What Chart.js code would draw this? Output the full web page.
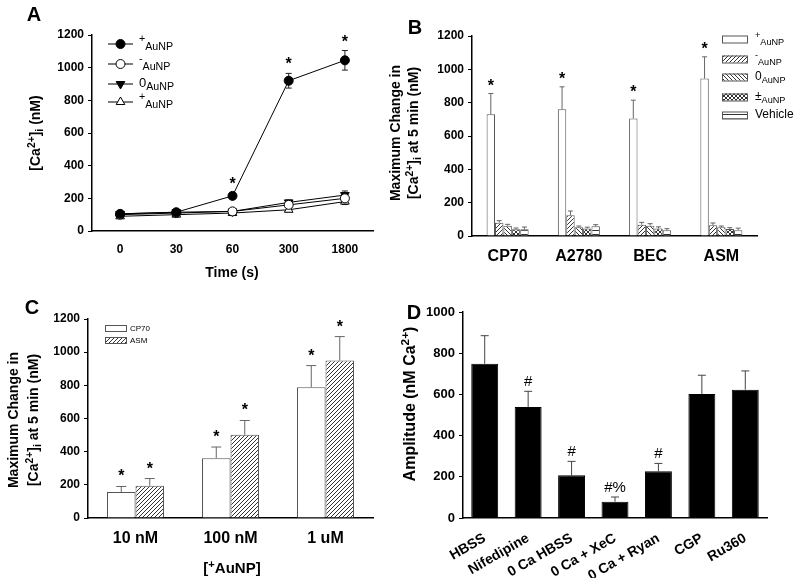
<!DOCTYPE html>
<html lang="en">
<head>
<meta charset="UTF-8">
<title>AuNP calcium figure</title>
<script src="https://cdn.jsdelivr.net/npm/chart.js"></script>
<style>
  body { margin: 0; background: #fff; }
  #wrap { position: relative; width: 795px; height: 582px; }
  #wrap canvas { position: absolute; left: 0; top: 0; }
</style>
</head>
<body>
<div id="wrap">
  <canvas id="cA" width="795" height="582"></canvas>
  <canvas id="cB" width="795" height="582"></canvas>
  <canvas id="cC" width="795" height="582"></canvas>
  <canvas id="cD" width="795" height="582"></canvas>
</div>
<script>
// ---- panel A: time course ----
const timeLabels = ['0', '30', '60', '300', '1800'];
const posAuNP  = [105, 115, 215, 920, 1045];
const posErr   = [10, 10, 20, 45, 60];
const negAuNP  = [100, 110, 120, 160, 200];
const negErr   = [8, 8, 8, 15, 20];
const zeroAuNP = [105, 115, 120, 175, 220];
const zeroErr  = [8, 8, 8, 15, 25];
const pmAuNP   = [90, 100, 110, 130, 180];
const pmErr    = [8, 8, 8, 12, 18];
const starsA   = ['', '', '*', '*', '*'];

// ---- panel B: cell lines ----
const cellLines = ['CP70', 'A2780', 'BEC', 'ASM'];
const bPos  = [730, 760, 705, 945];  const bPosErr  = [125, 135, 110, 130];
const bNeg  = [80, 125, 68, 64];     const bNegErr  = [12, 25, 14, 14];
const bZero = [62, 52, 62, 52];      const bZeroErr = [8, 8, 12, 8];
const bPm   = [40, 45, 45, 42];      const bPmErr   = [8, 8, 10, 8];
const bVeh  = [40, 58, 34, 35];      const bVehErr  = [14, 10, 10, 12];
const starsB = ['*', '*', '*', '*'];

// ---- panel C: dose ----
const concLabels = ['10 nM', '100 nM', '1 uM'];
const cCP70 = [157, 361, 789];  const cCP70Err = [33, 67, 130];
const cASM  = [195, 502, 949];  const cASMErr  = [43, 86, 145];
const starsC = ['*', '*', '*'];

// ---- panel D: inhibitors ----
const treatments = ['HBSS', 'Nifedipine', '0 Ca HBSS', '0 Ca + XeC', '0 Ca + Ryan', 'CGP', 'Ru360'];
const amplitude  = [749, 539, 207, 79, 227, 602, 623];
const ampErr     = [136, 76, 68, 23, 38, 91, 91];
const marksD     = ['', '#', '#', '#%', '#', '', ''];

Chart.defaults.font.family = '"Liberation Sans", Arial, sans-serif';
Chart.defaults.color = '#000';
Chart.defaults.animation = false;

// text with ^{sup} and _{sub} pieces
function parse(str) {
  const out = [];
  const re = /([\^_])\{([^}]*)\}|([^\^_]+)/g;
  let m;
  while ((m = re.exec(str))) {
    if (m[3]) out.push({ t: m[3] });
    else out.push({ t: m[2], sup: m[1] === '^', sub: m[1] === '_' });
  }
  return out;
}

function drawRich(ctx, str, x, y, size, o = {}) {
  const segs = parse(str);
  const fnt = s => `${o.bold ? 'bold ' : ''}${s}px "Liberation Sans", Arial, sans-serif`;
  const small = o.small || 0.74;
  let total = 0;
  segs.forEach(s => {
    s.size = (s.sup || s.sub) ? size * small : size;
    ctx.font = fnt(s.size);
    s.w = ctx.measureText(s.t).width;
    total += s.w;
  });
  ctx.save();
  ctx.translate(x, y);
  if (o.rot) ctx.rotate(o.rot * Math.PI / 180);
  ctx.fillStyle = '#000';
  ctx.textBaseline = 'alphabetic';
  ctx.textAlign = 'left';
  let cx = o.align === 'left' ? 0 : -total / 2;
  const base = size * 0.36;
  segs.forEach(s => {
    ctx.font = fnt(s.size);
    const dy = s.sup ? -size * 0.38 : s.sub ? size * 0.24 : 0;
    ctx.fillText(s.t, cx, base + dy);
    cx += s.w;
  });
  ctx.restore();
}

function tile(ctx, kind, size) {
  const c = document.createElement('canvas');
  c.width = c.height = size;
  const g = c.getContext('2d');
  const s = size;
  g.fillStyle = '#fff';
  g.fillRect(0, 0, s, s);
  g.strokeStyle = '#333';
  g.lineWidth = 1;
  g.beginPath();
  if (kind === 'fwd' || kind === 'cross') {
    g.moveTo(-1, s + 1); g.lineTo(s + 1, -1);
    g.moveTo(-1, 1); g.lineTo(1, -1);
    g.moveTo(s - 1, s + 1); g.lineTo(s + 1, s - 1);
  }
  if (kind === 'back' || kind === 'cross') {
    g.moveTo(-1, -1); g.lineTo(s + 1, s + 1);
    g.moveTo(s - 1, -1); g.lineTo(s + 1, 1);
    g.moveTo(-1, s - 1); g.lineTo(1, s + 1);
  }
  if (kind === 'horiz') {
    g.moveTo(0, s / 2 + 0.5); g.lineTo(s, s / 2 + 0.5);
  }
  g.stroke();
  return ctx.createPattern(c, 'repeat');
}

// error bars, marks, legend and free text for one panel
function makeExtras(cfg) {
  return {
    id: 'extras',
    beforeDatasetsDraw(chart) {
      const ctx = chart.ctx, ys = chart.scales.y;
      chart.data.datasets.forEach((ds, i) => {
        if (!ds.errors) return;
        chart.getDatasetMeta(i).data.forEach((el, j) => {
          const v = ds.data[j], e = ds.errors[j];
          if (!e) return;
          const top = ys.getPixelForValue(v + e);
          const bot = cfg.both ? ys.getPixelForValue(v - e) : ys.getPixelForValue(v);
          ctx.save();
          ctx.strokeStyle = cfg.errColor;
          ctx.lineWidth = 1;
          ctx.beginPath();
          ctx.moveTo(el.x, top); ctx.lineTo(el.x, bot);
          ctx.moveTo(el.x - cfg.cap / 2, top); ctx.lineTo(el.x + cfg.cap / 2, top);
          if (cfg.both) { ctx.moveTo(el.x - cfg.cap / 2, bot); ctx.lineTo(el.x + cfg.cap / 2, bot); }
          ctx.stroke();
          ctx.restore();
        });
      });
    },
    afterDraw(chart) {
      const ctx = chart.ctx, ys = chart.scales.y;
      chart.data.datasets.forEach((ds, i) => {
        if (!ds.marks) return;
        chart.getDatasetMeta(i).data.forEach((el, j) => {
          const t = ds.marks[j];
          if (!t) return;
          const top = ys.getPixelForValue(ds.data[j] + (ds.errors ? ds.errors[j] : 0));
          ctx.save();
          ctx.font = cfg.markFont;
          ctx.fillStyle = '#000';
          ctx.textAlign = 'center';
          ctx.textBaseline = 'alphabetic';
          ctx.fillText(t, el.x, top - cfg.markGap);
          ctx.restore();
        });
      });
      const lg = cfg.legend;
      if (lg) {
        chart.data.datasets.forEach((ds, i) => {
          const y = lg.rows[i];
          ctx.save();
          if (lg.kind === 'line') {
            ctx.strokeStyle = '#000';
            ctx.lineWidth = 1;
            ctx.beginPath();
            ctx.moveTo(lg.x0, y); ctx.lineTo(lg.x0 + lg.w, y);
            ctx.stroke();
            ctx.fillStyle = ds.pointBackgroundColor;
            ctx.strokeStyle = '#000';
            Chart.helpers.drawPoint(ctx, {
              pointStyle: ds.pointStyle, rotation: ds.pointRotation || 0,
              radius: ds.pointRadius, borderWidth: 1
            }, lg.x0 + lg.w / 2, y);
          } else {
            ctx.fillStyle = ds.backgroundColor;
            ctx.fillRect(lg.x0, y - lg.h / 2, lg.w, lg.h);
            ctx.strokeStyle = ds.borderColor;
            ctx.lineWidth = 1;
            ctx.strokeRect(lg.x0 + 0.5, y - lg.h / 2 + 0.5, lg.w, lg.h);
          }
          ctx.restore();
          drawRich(ctx, ds.label, lg.tx, y + lg.dy, lg.size, { align: 'left', small: lg.small });
        });
      }
      (cfg.texts || []).forEach(t => drawRich(ctx, t.s, t.x, t.y, t.size, t));
    }
  };
}

function yScale(max, fontSize) {
  return {
    min: 0, max,
    ticks: { stepSize: 200, font: { size: fontSize, weight: 'bold' }, color: '#000', padding: 4,
             callback: v => String(v) },
    grid: { drawOnChartArea: false, drawTicks: true, tickLength: 4, color: '#000', lineWidth: 1 },
    border: { display: true, color: '#000', width: 1.5 },
    afterFit: s => { s.width = 50; }
  };
}

function xScale(fontSize, padding, xH, rot) {
  return {
    type: 'category', offset: true,
    grid: { display: false },
    border: { display: true, color: '#000', width: 1.5 },
    ticks: { font: { size: fontSize, weight: 'bold' }, color: '#000', padding,
             autoSkip: false, maxRotation: rot || 0, minRotation: rot || 0 },
    afterFit: s => { s.height = xH; }
  };
}

function pad(l, t, r, b, xH) {
  return { left: l - 50, top: t, right: 795 - r, bottom: 582 - b - xH };
}

const common = {
  responsive: false,
  plugins: { legend: { display: false }, tooltip: { enabled: false } }
};

// ---------- A ----------
new Chart(document.getElementById('cA'), {
  type: 'line',
  data: {
    labels: timeLabels,
    datasets: [
      { label: '^{+}_{AuNP}', data: posAuNP, errors: posErr, marks: starsA,
        pointStyle: 'circle', pointRadius: 4.5, pointBackgroundColor: '#000' },
      { label: '^{-}_{AuNP}', data: negAuNP, errors: negErr,
        pointStyle: 'circle', pointRadius: 4.5, pointBackgroundColor: '#fff' },
      { label: '0_{AuNP}', data: zeroAuNP, errors: zeroErr,
        pointStyle: 'triangle', pointRotation: 180, pointRadius: 5, pointBackgroundColor: '#000' },
      { label: '^{+}_{AuNP}', data: pmAuNP, errors: pmErr,
        pointStyle: 'triangle', pointRadius: 5, pointBackgroundColor: '#fff' }
    ].map(d => Object.assign({ borderColor: '#000', borderWidth: 1, pointBorderColor: '#000',
                               pointBorderWidth: 1, tension: 0 }, d))
  },
  options: Object.assign({}, common, {
    layout: { padding: pad(92, 35, 373, 231, 40) },
    scales: { x: xScale(12, 3, 40), y: yScale(1200, 12) }
  }),
  plugins: [makeExtras({
    errColor: '#222', cap: 6, both: true, markFont: 'bold 16px "Liberation Sans", Arial', markGap: 4,
    legend: { kind: 'line', x0: 108, w: 25, tx: 139, rows: [44, 64, 84, 102], dy: -2, size: 13, small: 0.82 },
    texts: [
      { s: 'A', x: 34, y: 14, size: 20, bold: true },
      { s: '[Ca^{2+}]_{i} (nM)', x: 35, y: 133, size: 14, bold: true, rot: -90 },
      { s: 'Time (s)', x: 232, y: 272, size: 14, bold: true }
    ]
  })]
});

// ---------- B ----------
const ctxB = document.getElementById('cB').getContext('2d');
new Chart(ctxB, {
  type: 'bar',
  data: {
    labels: cellLines,
    datasets: [
      { label: '^{+}_{AuNP}', data: bPos, errors: bPosErr, marks: starsB, backgroundColor: '#fff' },
      { label: '^{-}_{AuNP}', data: bNeg, errors: bNegErr, backgroundColor: tile(ctxB, 'fwd', 4) },
      { label: '0_{AuNP}', data: bZero, errors: bZeroErr, backgroundColor: tile(ctxB, 'back', 4) },
      { label: '±_{AuNP}', data: bPm, errors: bPmErr, backgroundColor: tile(ctxB, 'cross', 4) },
      { label: 'Vehicle', data: bVeh, errors: bVehErr, backgroundColor: tile(ctxB, 'horiz', 4) }
    ].map(d => Object.assign({ borderColor: '#555', borderWidth: 1,
                               categoryPercentage: 0.59, barPercentage: 1 }, d))
  },
  options: Object.assign({}, common, {
    layout: { padding: pad(472, 36, 757, 236, 40) },
    scales: { x: xScale(16, 3, 40), y: yScale(1200, 12) }
  }),
  plugins: [makeExtras({
    errColor: '#666', cap: 5, both: false, markFont: 'bold 16px "Liberation Sans", Arial', markGap: 3,
    legend: { kind: 'box', x0: 722, w: 25, h: 7, tx: 755, rows: [39, 59, 77, 97, 115], dy: -1, size: 12, small: 0.76 },
    texts: [
      { s: 'B', x: 415, y: 27, size: 20, bold: true },
      { s: 'Maximum Change in', x: 395, y: 133, size: 14, bold: true, rot: -90 },
      { s: '[Ca^{2+}]_{i} at 5 min (nM)', x: 413, y: 133, size: 14, bold: true, rot: -90 }
    ]
  })]
});

// ---------- C ----------
const ctxC = document.getElementById('cC').getContext('2d');
new Chart(ctxC, {
  type: 'bar',
  data: {
    labels: concLabels,
    datasets: [
      { label: 'CP70', data: cCP70, errors: cCP70Err, marks: starsC, backgroundColor: '#fff' },
      { label: 'ASM', data: cASM, errors: cASMErr, marks: starsC, backgroundColor: tile(ctxC, 'fwd', 4) }
    ].map(d => Object.assign({ borderColor: '#555', borderWidth: 1,
                               categoryPercentage: 0.6, barPercentage: 1 }, d))
  },
  options: Object.assign({}, common, {
    layout: { padding: pad(88, 319, 373, 518, 40) },
    scales: { x: xScale(16, 3, 40), y: yScale(1200, 12) }
  }),
  plugins: [makeExtras({
    errColor: '#666', cap: 10, both: false, markFont: 'bold 16px "Liberation Sans", Arial', markGap: 5,
    legend: { kind: 'box', x0: 105, w: 21, h: 6, tx: 130, rows: [328, 340], dy: 0, size: 8 },
    texts: [
      { s: 'C', x: 32, y: 307, size: 20, bold: true },
      { s: 'Maximum Change in', x: 13, y: 420, size: 14, bold: true, rot: -90 },
      { s: '[Ca^{2+}]_{i} at 5 min (nM)', x: 33, y: 420, size: 14, bold: true, rot: -90 },
      { s: '[^{+}AuNP]', x: 232, y: 568, size: 15, bold: true }
    ]
  })]
});

// ---------- D ----------
new Chart(document.getElementById('cD'), {
  type: 'bar',
  data: {
    labels: treatments,
    datasets: [
      { label: 'Amplitude', data: amplitude, errors: ampErr, marks: marksD,
        backgroundColor: '#000', borderColor: '#000', borderWidth: 1,
        categoryPercentage: 0.62, barPercentage: 1 }
    ]
  },
  options: Object.assign({}, common, {
    layout: { padding: pad(463, 312, 767, 518, 60) },
    scales: { x: xScale(14, 4, 60, 30), y: yScale(1000, 13) }
  }),
  plugins: [makeExtras({
    errColor: '#444', cap: 8, both: false, markFont: '15px "Liberation Sans", Arial', markGap: 5,
    texts: [
      { s: 'D', x: 414, y: 312, size: 20, bold: true },
      { s: 'Amplitude (nM Ca^{2+})', x: 409, y: 404, size: 16, bold: true, rot: -90 }
    ]
  })]
});
</script>
</body>
</html>
